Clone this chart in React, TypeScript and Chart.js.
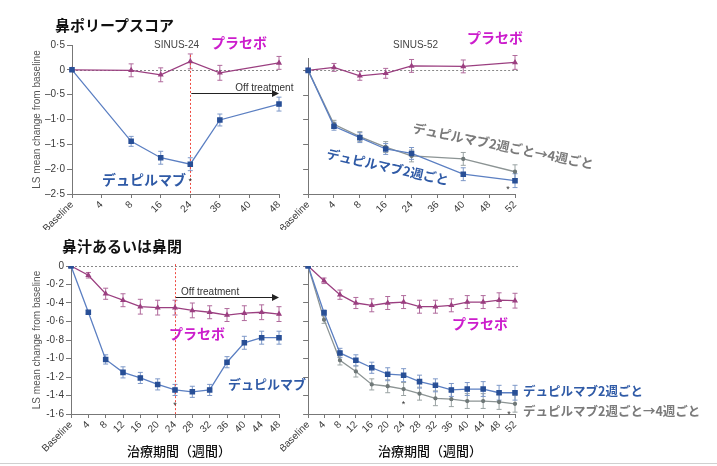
import React, { useEffect, useRef } from "react";
import { Chart, registerables } from "chart.js";
Chart.register(...registerables);

// ---------- Data ----------
// Nasal polyp score, SINUS-24
const nps24Labels = ["Baseline", "4", "8", "16", "24", "36", "40", "48"];
const nps24Placebo = [0, null, -0.01, -0.1, 0.17, -0.06, null, 0.14];
const nps24PlaceboErr = [0, null, 0.13, 0.14, 0.15, 0.15, null, 0.13];
const nps24Dupi = [0, null, -1.44, -1.77, -1.9, -1.01, null, -0.69];
const nps24DupiErr = [0, null, 0.1, 0.13, 0.13, 0.12, null, 0.14];

// Nasal polyp score, SINUS-52
const nps52Labels = ["Baseline", "4", "8", "16", "24", "36", "40", "48", "52"];
const nps52Placebo = [0, 0.06, -0.11, -0.06, 0.09, null, 0.08, null, 0.16];
const nps52PlaceboErr = [0, 0.08, 0.09, 0.1, 0.13, null, 0.13, null, 0.14];
const nps52Dupi2w = [0, -1.13, -1.36, -1.59, -1.68, null, -2.1, null, -2.23];
const nps52Dupi2wErr = [0, 0.08, 0.1, 0.11, 0.12, null, 0.13, null, 0.14];
const nps52Dupi4w = [0, -1.09, -1.34, -1.55, -1.73, null, -1.79, null, -2.05];
const nps52Dupi4wErr = [0, 0.08, 0.1, 0.11, 0.12, null, 0.13, null, 0.14];

const npsTicks = [0.5, 0, -0.5, -1.0, -1.5, -2.0, -2.5];
const npsTickLabels = ["0·5", "0", "–0·5", "–1·0", "–1·5", "–2·0", "–2·5"];
const nps52Ticks = [0, -0.5, -1.0, -1.5, -2.0, -2.5];

// Nasal congestion, SINUS-24
const nc24Labels = ["Baseline", "4", "8", "12", "16", "20", "24", "28", "32", "36", "40", "44", "48"];
const nc24Placebo = [0, -0.1, -0.3, -0.37, -0.44, -0.45, -0.45, -0.48, -0.5, -0.53, -0.51, -0.5, -0.52];
const nc24PlaceboErr = [0, 0.03, 0.06, 0.07, 0.08, 0.08, 0.08, 0.08, 0.07, 0.07, 0.08, 0.08, 0.08];
const nc24Dupi = [0, -0.5, -1.01, -1.15, -1.21, -1.28, -1.34, -1.36, -1.34, -1.04, -0.83, -0.775, -0.775];
const nc24DupiErr = [0, 0.02, 0.05, 0.06, 0.06, 0.06, 0.06, 0.06, 0.06, 0.06, 0.07, 0.07, 0.07];

// Nasal congestion, SINUS-52
const nc52Labels = ["Baseline", "4", "8", "12", "16", "20", "24", "28", "32", "36", "40", "44", "48", "52"];
const nc52Placebo = [0, -0.16, -0.31, -0.4, -0.425, -0.4, -0.39, -0.44, -0.44, -0.425, -0.39, -0.39, -0.37, -0.375];
const nc52PlaceboErr = [0, 0.03, 0.05, 0.06, 0.07, 0.07, 0.07, 0.07, 0.07, 0.07, 0.07, 0.07, 0.08, 0.08];
const nc52Dupi2w = [0, -0.505, -0.94, -1.02, -1.1, -1.17, -1.18, -1.25, -1.29, -1.34, -1.33, -1.33, -1.37, -1.37];
const nc52Dupi2wErr = [0, 0.03, 0.05, 0.06, 0.06, 0.07, 0.07, 0.07, 0.07, 0.07, 0.07, 0.08, 0.08, 0.08];
const nc52Dupi4w = [0, -0.58, -1.02, -1.14, -1.28, -1.3, -1.33, -1.38, -1.43, -1.44, -1.46, -1.46, -1.47, -1.49];
const nc52Dupi4wErr = [0, 0.04, 0.05, 0.06, 0.06, 0.07, 0.07, 0.07, 0.08, 0.08, 0.08, 0.08, 0.08, 0.09];

const ncTicks = [0, -0.2, -0.4, -0.6, -0.8, -1.0, -1.2, -1.4, -1.6];
const ncTickLabels = ["0", "-0·2", "-0·4", "-0·6", "-0·8", "-1·0", "-1·2", "-1·4", "-1·6"];

// ---------- Styles ----------
const PLACEBO = "#9b3f80";
const BLUE_LINE = "#5b7fc2";
const BLUE_MARK = "#284f96";
const GRAY = "#8c9494";
const AXIS = "#777";
const TICK_TXT = "#3a3a3a";
const FONT = "'Liberation Sans', Arial, sans-serif";
const JP = "'Noto Sans CJK JP', sans-serif";

const errorBarPlugin = {
  id: "errorBars",
  beforeDatasetsDraw(chart: any) {
    const ctx = chart.ctx;
    const y = chart.scales.y;
    chart.data.datasets.forEach((ds: any, i: number) => {
      if (!ds.errors) return;
      const meta = chart.getDatasetMeta(i);
      ctx.save();
      ctx.strokeStyle = ds.errColor;
      ctx.lineWidth = 1;
      meta.data.forEach((pt: any, j: number) => {
        const v = ds.data[j];
        const e = ds.errors[j];
        if (v == null || !e) return;
        const x = pt.x;
        const y1 = y.getPixelForValue(v + e);
        const y2 = y.getPixelForValue(v - e);
        ctx.beginPath();
        ctx.moveTo(x, y1);
        ctx.lineTo(x, y2);
        ctx.moveTo(x - 2.5, y1);
        ctx.lineTo(x + 2.5, y1);
        ctx.moveTo(x - 2.5, y2);
        ctx.lineTo(x + 2.5, y2);
        ctx.stroke();
      });
      ctx.restore();
    });
  },
};

const annotPlugin = {
  id: "annot",
  beforeDatasetsDraw(chart: any, _a: any, opts: any) {
    const ctx = chart.ctx;
    const x = chart.scales.x;
    const y = chart.scales.y;
    const area = chart.chartArea;
    ctx.save();
    const y0 = Math.round(y.getPixelForValue(0)) + 0.5;
    ctx.strokeStyle = "#888";
    ctx.lineWidth = 1;
    ctx.setLineDash([2, 2]);
    ctx.beginPath();
    ctx.moveTo(area.left, y0);
    ctx.lineTo(area.right + (opts.zeroExtend || 0), y0);
    ctx.stroke();
    if (opts.vline != null) {
      const vx = Math.round(x.getPixelForValue(opts.vline)) + 0.5;
      ctx.strokeStyle = "#ee4a40";
      ctx.setLineDash([2, 2]);
      ctx.beginPath();
      ctx.moveTo(vx, y.getPixelForValue(opts.vlineTop));
      ctx.lineTo(vx, area.bottom);
      ctx.stroke();
    }
    ctx.restore();
  },
  afterDatasetsDraw(chart: any, _a: any, opts: any) {
    const ctx = chart.ctx;
    const x = chart.scales.x;
    const y = chart.scales.y;
    const area = chart.chartArea;
    ctx.save();
    if (opts.arrow) {
      const ax = x.getPixelForValue(opts.arrow.from) + 1;
      const ay = Math.round(y.getPixelForValue(opts.arrow.y)) + 0.5;
      const ex = area.right;
      ctx.strokeStyle = "#222";
      ctx.fillStyle = "#222";
      ctx.lineWidth = 1;
      ctx.beginPath();
      ctx.moveTo(ax, ay);
      ctx.lineTo(ex - 5, ay);
      ctx.stroke();
      ctx.beginPath();
      ctx.moveTo(ex, ay);
      ctx.lineTo(ex - 7, ay - 3.5);
      ctx.lineTo(ex - 7, ay + 3.5);
      ctx.closePath();
      ctx.fill();
      ctx.font = "10px " + FONT;
      ctx.fillStyle = "#333";
      ctx.textAlign = "left";
      ctx.textBaseline = "alphabetic";
      ctx.fillText("Off treatment", ax + opts.arrow.textDx, ay - 3);
    }
    if (opts.stars) {
      ctx.font = "9px " + FONT;
      ctx.fillStyle = "#333";
      ctx.textAlign = "center";
      ctx.textBaseline = "middle";
      opts.stars.forEach((s: any) => {
        ctx.fillText("*", x.getPixelForValue(s.index) + (s.dx || 0), y.getPixelForValue(s.value) + 2);
      });
    }
    ctx.restore();
  },
};

function makeDs(label: string, data: any[], errors: any[], kind: "placebo" | "blue" | "gray") {
  const base: any = {
    label,
    data,
    errors,
    spanGaps: true,
    borderWidth: 1.3,
    tension: 0,
  };
  if (kind === "placebo") {
    return { ...base, borderColor: PLACEBO, backgroundColor: PLACEBO, errColor: "#b06a9c", pointStyle: "triangle", pointRadius: 2.2, order: 3 };
  }
  if (kind === "blue") {
    return { ...base, borderColor: BLUE_LINE, backgroundColor: BLUE_MARK, pointBorderColor: BLUE_MARK, errColor: "#7d98c8", pointStyle: "rect", pointRadius: 3, order: 1 };
  }
  return { ...base, borderColor: GRAY, backgroundColor: "#6f7878", pointBorderColor: "#6f7878", errColor: "#9aa3a3", pointStyle: "circle", pointRadius: 1.5, order: 2 };
}

type PanelProps = {
  left: number;
  top: number;
  width: number;
  height: number;
  labels: string[];
  datasets: any[];
  yMin: number;
  yMax: number;
  yTicks: number[];
  yTickLabels: string[] | null;
  padLeft: number;
  yWidth: number;
  xHeight: number;
  padTop: number;
  padRight: number;
  yTitle: boolean;
  annot: any;
};

function Panel(p: PanelProps) {
  const ref = useRef<HTMLCanvasElement>(null);
  useEffect(() => {
    const c = ref.current!;
    const chart = new Chart(c, {
      type: "line",
      data: { labels: p.labels, datasets: p.datasets },
      plugins: [errorBarPlugin, annotPlugin],
      options: {
        animation: false,
        responsive: false,
        devicePixelRatio: 1,
        layout: { padding: { top: p.padTop, right: p.padRight, left: p.padLeft, bottom: 0 } },
        plugins: {
          legend: { display: false },
          tooltip: { enabled: false },
          annot: p.annot,
        } as any,
        scales: {
          x: {
            type: "category",
            offset: false,
            grid: { drawOnChartArea: false, drawTicks: true, tickLength: 4, color: AXIS },
            border: { color: AXIS, width: 1 },
            ticks: {
              autoSkip: false,
              maxRotation: 45,
              minRotation: 45,
              padding: 1,
              color: TICK_TXT,
              font: { family: FONT, size: 10 },
            },
            afterFit: (s: any) => {
              s.height = p.xHeight;
            },
          },
          y: {
            type: "linear",
            min: p.yMin,
            max: p.yMax,
            grid: { drawOnChartArea: false, drawTicks: true, tickLength: 5, color: AXIS },
            border: { color: AXIS, width: 1 },
            afterBuildTicks: (s: any) => {
              s.ticks = p.yTicks.map((v) => ({ value: v }));
            },
            ticks: {
              display: !!p.yTickLabels,
              padding: 2,
              color: TICK_TXT,
              font: { family: FONT, size: 10 },
              callback: (v: any) => {
                if (!p.yTickLabels) return "";
                const i = p.yTicks.findIndex((t) => Math.abs(t - v) < 1e-6);
                return i >= 0 ? p.yTickLabels[i] : "";
              },
            },
            title: {
              display: p.yTitle,
              text: "LS mean change from baseline",
              color: "#555",
              font: { family: FONT, size: 10 },
              padding: { top: 0, bottom: 4 },
            },
            afterFit: (s: any) => {
              s.width = p.yWidth;
            },
          },
        },
      } as any,
    });
    return () => chart.destroy();
  }, []);
  return (
    <canvas
      ref={ref}
      width={p.width}
      height={p.height}
      style={{ position: "absolute", left: p.left, top: p.top, width: p.width, height: p.height }}
    />
  );
}

function Label(props: { x: number; y: number; text: string; color: string; size: number; weight?: number; rotate?: number; family?: string }) {
  return (
    <div
      style={{
        position: "absolute",
        left: props.x,
        top: props.y,
        transform: `translateY(-50%) rotate(${props.rotate || 0}deg)`,
        transformOrigin: "0% 50%",
        color: props.color,
        fontSize: props.size,
        fontWeight: props.weight ?? 700,
        fontFamily: props.family || JP,
        whiteSpace: "nowrap",
        lineHeight: 1,
        zIndex: 5,
      }}
    >
      {props.text}
    </div>
  );
}

export default function App() {
  return (
    <div style={{ position: "absolute", left: 0, top: 0, width: 717, height: 466, background: "#fff", overflow: "hidden" }}>
      <Panel
        left={0}
        top={0}
        width={300}
        height={230}
        labels={nps24Labels}
        datasets={[
          makeDs("プラセボ", nps24Placebo, nps24PlaceboErr, "placebo"),
          makeDs("デュピルマブ", nps24Dupi, nps24DupiErr, "blue"),
        ]}
        yMin={-2.5}
        yMax={0.5}
        yTicks={npsTicks}
        yTickLabels={npsTickLabels}
        padLeft={31}
        yWidth={41}
        xHeight={36}
        padTop={45}
        padRight={21}
        yTitle={true}
        annot={{ zeroExtend: 0, vline: 4, vlineTop: 0.3, arrow: { from: 4, y: -0.46, textDx: 44 }, stars: [{ index: 4, value: -2.2 }] }}
      />
      <Panel
        left={280}
        top={0}
        width={437}
        height={230}
        labels={nps52Labels}
        datasets={[
          makeDs("プラセボ", nps52Placebo, nps52PlaceboErr, "placebo"),
          makeDs("デュピルマブ2週ごと→4週ごと", nps52Dupi4w, nps52Dupi4wErr, "gray"),
          makeDs("デュピルマブ2週ごと", nps52Dupi2w, nps52Dupi2wErr, "blue"),
        ]}
        yMin={-2.5}
        yMax={0.25}
        yTicks={nps52Ticks}
        yTickLabels={null}
        padLeft={0}
        yWidth={27}
        xHeight={36}
        padTop={58}
        padRight={202}
        yTitle={false}
        annot={{ zeroExtend: 3, stars: [{ index: 8, value: -2.37, dx: -7 }] }}
      />
      <Panel
        left={0}
        top={230}
        width={300}
        height={236}
        labels={nc24Labels}
        datasets={[
          makeDs("プラセボ", nc24Placebo, nc24PlaceboErr, "placebo"),
          makeDs("デュピルマブ", nc24Dupi, nc24DupiErr, "blue"),
        ]}
        yMin={-1.6}
        yMax={0}
        yTicks={ncTicks}
        yTickLabels={ncTickLabels}
        padLeft={31}
        yWidth={40}
        xHeight={52}
        padTop={36}
        padRight={21}
        yTitle={true}
        annot={{ zeroExtend: 28, vline: 6, vlineTop: 0.02, arrow: { from: 6, y: -0.33, textDx: 5 }, stars: [{ index: 6, value: -1.49 }] }}
      />
      <Panel
        left={280}
        top={230}
        width={437}
        height={236}
        labels={nc52Labels}
        datasets={[
          makeDs("プラセボ", nc52Placebo, nc52PlaceboErr, "placebo"),
          makeDs("デュピルマブ2週ごと→4週ごと", nc52Dupi4w, nc52Dupi4wErr, "gray"),
          makeDs("デュピルマブ2週ごと", nc52Dupi2w, nc52Dupi2wErr, "blue"),
        ]}
        yMin={-1.6}
        yMax={0}
        yTicks={ncTicks}
        yTickLabels={null}
        padLeft={0}
        yWidth={27}
        xHeight={52}
        padTop={36}
        padRight={202}
        yTitle={false}
        annot={{ zeroExtend: 3, stars: [{ index: 6, value: -1.48 }, { index: 13, value: -1.58, dx: -6 }] }}
      />

      {/* Titles */}
      <Label x={55} y={24} text="鼻ポリープスコア" color="#111" size={15} />
      <Label x={62} y={245} text="鼻汁あるいは鼻閉" color="#111" size={15} />
      <Label x={154} y={45} text="SINUS-24" color="#444" size={10} weight={400} family={FONT} />
      <Label x={393} y={45} text="SINUS-52" color="#444" size={10} weight={400} family={FONT} />

      {/* Series labels, top-left */}
      <Label x={211} y={42} text="プラセボ" color="#cc1ccc" size={14} />
      <Label x={102} y={179} text="デュピルマブ" color="#2f5aa6" size={14} />
      {/* top-right */}
      <Label x={467} y={37} text="プラセボ" color="#cc1ccc" size={14} />
      <Label x={413} y={127} text="デュピルマブ2週ごと→4週ごと" color="#7a7a7a" size={13} rotate={11.5} />
      <Label x={327} y={153} text="デュピルマブ2週ごと" color="#2f5aa6" size={13} rotate={12.5} />
      {/* bottom-left */}
      <Label x={169} y={333} text="プラセボ" color="#cc1ccc" size={14} />
      <Label x={228} y={383} text="デュピルマブ" color="#2f5aa6" size={13} />
      {/* bottom-right */}
      <Label x={452} y={323} text="プラセボ" color="#cc1ccc" size={14} />
      <Label x={523} y={391} text="デュピルマブ2週ごと" color="#2f5aa6" size={12.5} />
      <Label x={523} y={411} text="デュピルマブ2週ごと→4週ごと" color="#7a7a7a" size={12.5} />

      {/* x-axis titles */}
      <Label x={127} y={450} text="治療期間（週間）" color="#111" size={13} weight={500} />
      <Label x={378} y={450} text="治療期間（週間）" color="#111" size={13} weight={500} />

      <div style={{ position: "absolute", left: 0, top: 463, width: 717, height: 1, background: "#d0d0d0" }} />
    </div>
  );
}
